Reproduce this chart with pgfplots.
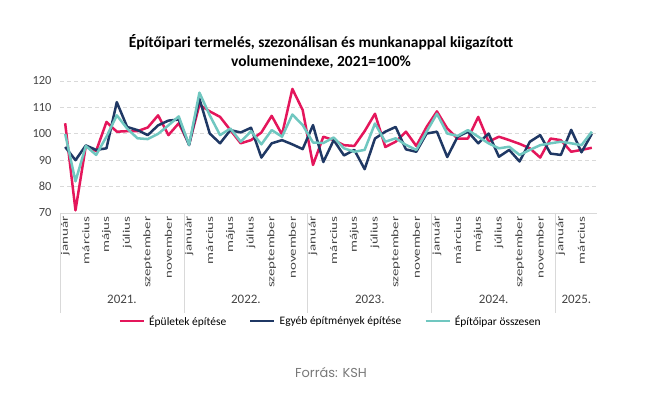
\documentclass[border=0pt]{standalone}
\usepackage{pgfplots}
\pgfplotsset{compat=1.18}
\usepackage{pgfplotstable}
\usepackage{fontspec}
\setmainfont{Carlito}
\newfontfamily\footfont{Poppins}
\definecolor{cred}{RGB}{228,22,91}
\definecolor{cnavy}{RGB}{31,56,100}
\definecolor{cteal}{RGB}{112,199,192}
\definecolor{labgray}{RGB}{70,70,70}
\definecolor{gridgray}{RGB}{217,217,217}

\pgfplotstableread{
i red navy teal
0 104 95 100
1 71 90 82
2 95.4 95.6 95.4
3 93.5 93.9 92
4 104.5 94.5 98.9
5 100.8 112 107
6 101 102.6 102
7 101 101.4 98.3
8 102.4 99.5 98
9 107 103.2 100
10 99.5 105 103.2
11 104 105.4 106.6
12 96 95.7 95.8
13 111 113.3 115.6
14 108.5 100.1 107
15 106.4 96.4 99.5
16 101.4 101.4 102
17 96.4 100.5 97
18 97.6 102.3 101
19 100.5 91 96
20 106.8 96.4 101.4
21 99.7 97.6 98.9
22 117 96 107.3
23 109 94.2 103.3
24 88.2 103.3 96.7
25 98.9 89.3 96.5
26 97.6 97.6 98.6
27 95.7 91.8 94.5
28 95.4 93.9 93.2
29 101 86.6 93.9
30 107.6 98.2 103.9
31 95 100.8 97
32 97 102.6 98.3
33 100.8 94.1 95.8
34 95.4 93.2 93.9
35 102.6 100.1 100.8
36 108.5 100.8 107.6
37 102 91.2 100.1
38 98.2 98.9 99.2
39 98.2 100.8 101.4
40 106.4 96.4 98.9
41 97 100.1 96.4
42 98.9 91.3 94.5
43 97.6 93.9 95.1
44 96.2 89.5 92
45 94.5 97 93.9
46 91 99.5 95.7
47 98.2 92.5 96.4
48 97.6 92 97
49 93.2 101.5 96.4
50 93.9 93 95.7
51 94.7 100 100.8
}\data

\begin{document}
\begin{tikzpicture}
\path[use as bounding box] (0,0) rectangle (661bp,393bp);
\node[font=\fontsize{15.5}{19}\selectfont\bfseries, align=center] at (321bp,341bp)
  {Építőipari termelés, szezonálisan és munkanappal kiigazított\\volumenindexe, 2021=100\%};
\begin{axis}[
  at={(60bp,180bp)}, anchor=south west,
  scale only axis, width=537bp, height=132bp,
  xmin=-0.5, xmax=51.5, ymin=70, ymax=120,
  ytick={70,80,...,120},
  xtick={0,2,...,50},
  xticklabels={január,március,május,július,szeptember,november,
               január,március,május,július,szeptember,november,
               január,március,május,július,szeptember,november,
               január,március,május,július,szeptember,november,
               január,március},
  x tick label style={rotate=90, anchor=east, font=\fontsize{15}{17}\selectfont, text=labgray, yscale=0.68},
  y tick label style={font=\fontsize{12.5}{14}\selectfont, text=labgray, xshift=-5bp},
  /pgf/number format/assume math mode=true,
  axis line style={draw=none},
  major tick length=0pt,
  ymajorgrids,
  grid style={gridgray, dash pattern=on 4bp off 3bp, line width=0.8bp},
  clip=false,
  legend columns=3,
  legend style={draw=none, fill=none, at={(0.504,-0.818)}, anchor=center,
    font=\fontsize{11.5}{13}\selectfont,
    /tikz/every odd column/.append style={column sep=2bp},
    /tikz/every even column/.append style={column sep=21bp}},
  legend image code/.code={\draw[#1, line width=2.5bp] (0bp,0bp) -- (24bp,0bp);},
]
\addplot[cred, line width=2.5bp, line join=round] table[x=i, y=red] {\data};
\addlegendentry{Épületek építése}
\addplot[cnavy, line width=2.5bp, line join=round] table[x=i, y=navy] {\data};
\addlegendentry{Egyéb építmények építése}
\addplot[cteal, line width=2.5bp, line join=round] table[x=i, y=teal] {\data};
\addlegendentry{Építőipar összesen}
\draw[gridgray, line width=0.8bp] (axis cs:-0.5,70) -- (axis cs:51.5,70);
\pgfplotsinvokeforeach{-0.5,11.5,23.5,35.5,47.5}{
  \draw[gridgray, line width=0.8bp] (axis cs:#1,70) -- ++(0bp,-100bp);
}
\node[font=\fontsize{13}{14}\selectfont, text=labgray] at (axis cs:5.5,70) [yshift=-86bp] {2021.};
\node[font=\fontsize{13}{14}\selectfont, text=labgray] at (axis cs:17.5,70) [yshift=-86bp] {2022.};
\node[font=\fontsize{13}{14}\selectfont, text=labgray] at (axis cs:29.5,70) [yshift=-86bp] {2023.};
\node[font=\fontsize{13}{14}\selectfont, text=labgray] at (axis cs:41.5,70) [yshift=-86bp] {2024.};
\node[font=\fontsize{13}{14}\selectfont, text=labgray] at (axis cs:49.5,70) [yshift=-86bp] {2025.};
\end{axis}
\node[font=\footfont\fontsize{13}{15}\selectfont, text={rgb,255:red,120;green,120;blue,120}] at (331bp,21bp) {Forrás: KSH};
\end{tikzpicture}
\end{document}
